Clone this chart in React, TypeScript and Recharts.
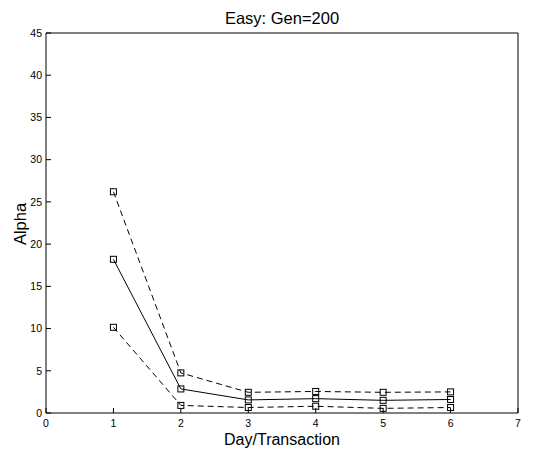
import { LineChart, Line, XAxis, YAxis } from "recharts";

const days = [1, 2, 3, 4, 5, 6];
const upper = [26.2, 4.75, 2.45, 2.55, 2.45, 2.5];
const mean = [18.2, 2.85, 1.55, 1.7, 1.5, 1.6];
const lower = [10.15, 0.9, 0.65, 0.8, 0.55, 0.65];

const xTicks = [0, 1, 2, 3, 4, 5, 6, 7];
const yTicks = [0, 5, 10, 15, 20, 25, 30, 35, 40, 45];

const data = days.map((d, i) => ({
  day: d,
  upper: upper[i],
  mean: mean[i],
  lower: lower[i]
}));

const font = "'Liberation Sans', Arial, Helvetica, sans-serif";

const Square = (props: any) => {
  const { cx, cy } = props;
  if (cx == null || cy == null) return null;
  return (
    <rect x={cx - 3} y={cy - 3} width={6} height={6} fill="none" stroke="#000" strokeWidth={1} />
  );
};

export default function App() {
  return (
    <div style={{ position: "absolute", left: 0, top: 0, background: "#fff" }}>
      <LineChart
        width={537}
        height={450}
        data={data}
        margin={{ top: 32, right: 18, left: 0, bottom: 0 }}
        style={{ fontFamily: font }}
      >
        <XAxis
          xAxisId="b"
          dataKey="day"
          type="number"
          domain={[0, 7]}
          ticks={xTicks}
          height={37}
          tickSize={-5}
          tickMargin={12}
          stroke="#000"
          tick={{ fill: "#000", fontSize: 10.5 }}
        />
        <XAxis
          xAxisId="t"
          dataKey="day"
          type="number"
          orientation="top"
          domain={[0, 7]}
          ticks={xTicks}
          height={1}
          tickSize={-5}
          tick={false}
          stroke="#000"
        />
        <YAxis
          yAxisId="l"
          type="number"
          domain={[0, 45]}
          ticks={yTicks}
          width={46}
          tickSize={-5}
          tickMargin={9}
          stroke="#000"
          tick={{ fill: "#000", fontSize: 10.5 }}
        />
        <YAxis
          yAxisId="r"
          type="number"
          orientation="right"
          domain={[0, 45]}
          ticks={yTicks}
          width={1}
          tickSize={-5}
          tick={false}
          stroke="#000"
        />
        {/* invisible series so the top and right axes get drawn */}
        <Line
          xAxisId="t"
          yAxisId="r"
          dataKey="mean"
          stroke="none"
          dot={false}
          activeDot={false}
          legendType="none"
          isAnimationActive={false}
        />
        <Line
          xAxisId="b"
          yAxisId="l"
          dataKey="upper"
          stroke="#000"
          strokeWidth={1}
          strokeDasharray="6 4"
          dot={<Square />}
          isAnimationActive={false}
        />
        <Line
          xAxisId="b"
          yAxisId="l"
          dataKey="mean"
          stroke="#000"
          strokeWidth={1}
          dot={<Square />}
          isAnimationActive={false}
        />
        <Line
          xAxisId="b"
          yAxisId="l"
          dataKey="lower"
          stroke="#000"
          strokeWidth={1}
          strokeDasharray="6 4"
          dot={<Square />}
          isAnimationActive={false}
        />
        <text x={282} y={24} textAnchor="middle" fontSize={16.5} fill="#000" fontFamily={font}>
          Easy: Gen=200
        </text>
        <text x={282} y={444.5} textAnchor="middle" fontSize={16} fill="#000" fontFamily={font}>
          Day/Transaction
        </text>
        <text
          x={26}
          y={224}
          transform="rotate(-90 26 224)"
          textAnchor="middle"
          fontSize={16.5}
          fill="#000"
          fontFamily={font}
        >
          Alpha
        </text>
      </LineChart>
    </div>
  );
}
